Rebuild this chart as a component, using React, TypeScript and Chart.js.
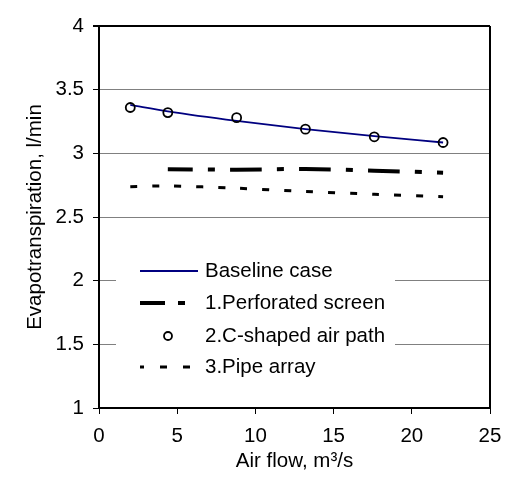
import React, { useEffect, useRef } from "react";
import { Chart, registerables } from "chart.js";

Chart.register(...registerables);

const airFlow = [2, 4.4, 8.8, 13.2, 17.6, 22];
const baseline = [3.38, 3.33, 3.255, 3.19, 3.135, 3.085];
const cShaped = [3.36, 3.32, 3.28, 3.19, 3.13, 3.085];
const perforatedX = [4.4, 8.8, 13.2, 17.6, 22];
const perforated = [2.875, 2.872, 2.877, 2.864, 2.848];
const pipeArray = [2.738, 2.744, 2.726, 2.7, 2.679, 2.66];
const legendLabels = ["Baseline case", "1.Perforated screen", "2.C-shaped air path", "3.Pipe array"];
const xTitle = "Air flow, m\u00B3/s";
const yTitle = "Evapotranspiration, l/min";

const FONT = 'Arial, "Liberation Sans", sans-serif';
const FS = 20.5;

const legendPlugin = {
  id: "customLegend",
  afterDraw(chart: any) {
    const ctx = chart.ctx;
    const { right } = chart.chartArea;
    ctx.save();
    // right border
    ctx.strokeStyle = "#000";
    ctx.lineWidth = 2;
    ctx.beginPath();
    ctx.moveTo(right, chart.chartArea.top);
    ctx.lineTo(right, chart.chartArea.bottom);
    ctx.stroke();

    // legend box
    ctx.fillStyle = "#fff";
    ctx.fillRect(116, 247, 279, 142);
    const ys = [271, 303, 336, 367];
    const x0 = 140, x1 = 198;
    // baseline
    ctx.strokeStyle = "#000080";
    ctx.lineWidth = 1.8;
    ctx.setLineDash([]);
    ctx.beginPath();
    ctx.moveTo(x0, ys[0]);
    ctx.lineTo(x1, ys[0]);
    ctx.stroke();
    // perforated
    ctx.strokeStyle = "#000";
    ctx.lineWidth = 4;
    ctx.lineCap = "butt";
    ctx.setLineDash([25, 13, 7, 30]);
    ctx.beginPath();
    ctx.moveTo(x0, ys[1]);
    ctx.lineTo(x1, ys[1]);
    ctx.stroke();
    // circle
    ctx.setLineDash([]);
    ctx.lineWidth = 1.8;
    ctx.beginPath();
    ctx.arc(168, ys[2], 4, 0, Math.PI * 2);
    ctx.stroke();
    // pipe
    ctx.lineWidth = 3;
    ctx.setLineDash([7, 16]);
    ctx.lineDashOffset = 3;
    ctx.beginPath();
    ctx.moveTo(x0, ys[3]);
    ctx.lineTo(x1, ys[3]);
    ctx.stroke();
    ctx.setLineDash([]);
    ctx.lineDashOffset = 0;

    ctx.fillStyle = "#000";
    ctx.font = `${FS}px ${FONT}`;
    ctx.textAlign = "left";
    ctx.textBaseline = "middle";
    legendLabels.forEach((t, i) => ctx.fillText(t, 205, ys[i]));
    ctx.restore();
  },
};

export default function App() {
  const ref = useRef<HTMLCanvasElement>(null);
  useEffect(() => {
    const chart = new Chart(ref.current!, {
      type: "line",
      data: {
        datasets: [
          {
            label: legendLabels[2],
            data: airFlow.map((x, i) => ({ x, y: cShaped[i] })),
            showLine: false,
            pointStyle: "circle",
            pointRadius: 4.5,
            pointBorderWidth: 1.8,
            pointBorderColor: "#000",
            pointBackgroundColor: "rgba(0,0,0,0)",
            borderColor: "#000",
            order: 0,
          },
          {
            label: legendLabels[0],
            data: airFlow.map((x, i) => ({ x, y: baseline[i] })),
            borderColor: "#000080",
            borderWidth: 1.8,
            pointRadius: 0,
            tension: 0.4,
            cubicInterpolationMode: "monotone",
            order: 1,
          },
          {
            label: legendLabels[1],
            data: perforatedX.map((x, i) => ({ x, y: perforated[i] })),
            borderColor: "#000",
            borderWidth: 4,
            borderDash: [32, 15, 7, 15],
            borderDashOffset: 7,
            pointRadius: 0,
            tension: 0.3,
            order: 2,
          },
          {
            label: legendLabels[3],
            data: airFlow.map((x, i) => ({ x, y: pipeArray[i] })),
            borderColor: "#000",
            borderWidth: 3,
            borderDash: [7, 15],
            pointRadius: 0,
            tension: 0.3,
            order: 3,
          },
        ],
      },
      options: {
        animation: false,
        responsive: false,
        layout: { padding: { left: 0, top: 26, right: 16, bottom: 0 } },
        plugins: { legend: { display: false }, tooltip: { enabled: false } },
        scales: {
          x: {
            type: "linear",
            min: 0,
            max: 25,
            afterFit: (s: any) => { s.height = 78; s.paddingRight = 0; s.paddingLeft = 0; },
            ticks: { stepSize: 5, color: "#000", padding: 10, maxRotation: 0, font: { family: FONT, size: FS } },
            grid: { drawOnChartArea: false, drawTicks: true, tickLength: 6, tickColor: "#000" },
            border: { display: true, color: "#000", width: 2 },
            title: { display: true, text: xTitle, color: "#000", font: { family: FONT, size: FS }, padding: { top: 0, bottom: 12 } },
          },
          y: {
            type: "linear",
            min: 1,
            max: 4,
            afterFit: (s: any) => { s.width = 99; s.paddingTop = 0; s.paddingBottom = 0; },
            ticks: {
              stepSize: 0.5,
              color: "#000",
              padding: 9,
              font: { family: FONT, size: FS },
              callback: (v: any) => String(Math.round(Number(v) * 10) / 10),
            },
            grid: {
              color: (c: any) => (c.tick && c.tick.value === 4 ? "#000" : "#808080"),
              lineWidth: (c: any) => (c.tick && c.tick.value === 4 ? 2 : 1),
              tickLength: 6,
              tickColor: "#000",
            },
            border: { display: true, color: "#000", width: 2 },
            title: { display: true, text: yTitle, color: "#000", font: { family: FONT, size: FS }, padding: { top: 23, bottom: 0 } },
          },
        },
      },
      plugins: [legendPlugin],
    } as any);
    return () => chart.destroy();
  }, []);
  return (
    <div style={{ position: "absolute", left: 0, top: 0, width: 506, height: 486, background: "#fff" }}>
      <canvas ref={ref} width={506} height={486} style={{ display: "block" }} />
    </div>
  );
}
